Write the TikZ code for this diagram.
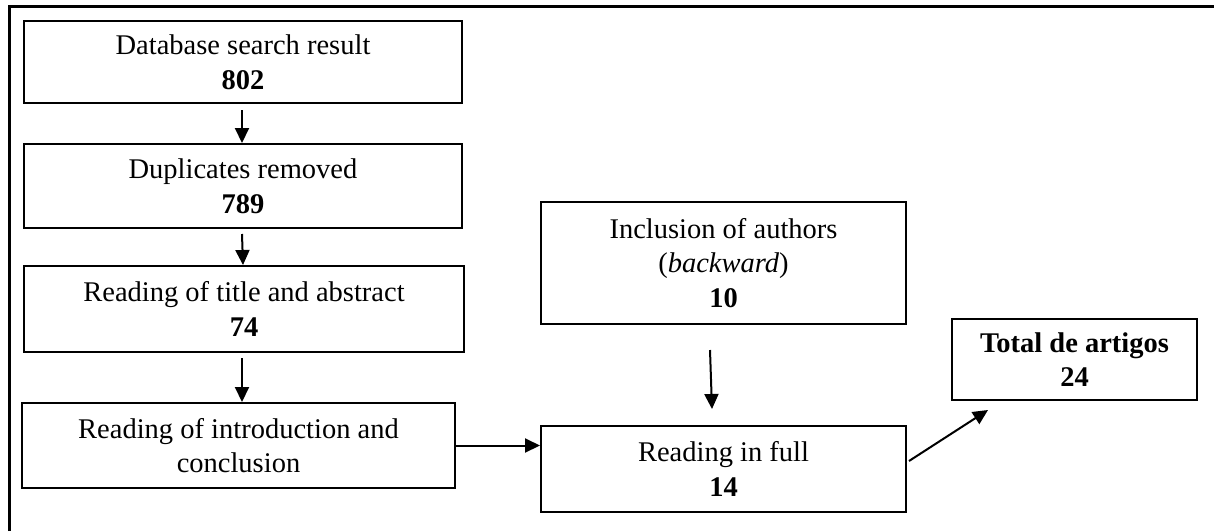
\documentclass[tikz,border=0pt]{standalone}
\usepackage{fontspec}
\setmainfont{Liberation Serif}
\usetikzlibrary{arrows.meta}
\begin{document}
\begin{tikzpicture}[x=1pt,y=-1pt,
  box/.style={draw,line width=2pt,rectangle,inner sep=0pt,align=center,
    font=\fontsize{28.5}{34.5}\selectfont},
  arr/.style={line width=2pt,-{Triangle[length=15pt,width=14pt]}}]
\useasboundingbox (0,0) rectangle (1214,531);
\fill[white] (0,0) rectangle (1214,531);
\draw[line width=3pt] (9.5,531) -- (9.5,6.5) -- (1214,6.5);
\node[box,minimum width=438pt,minimum height=82pt] (b1) at (243,62) {Database search result\\\textbf{802}};
\node[box,minimum width=438pt,minimum height=84pt] (b2) at (243,186) {Duplicates removed\\\textbf{789}};
\node[box,minimum width=440pt,minimum height=86pt] (b3) at (244,309) {Reading of title and abstract\\\textbf{74}};
\node[box,minimum width=433pt,minimum height=85pt] (b4) at (238.5,445.5) {Reading of introduction and\\conclusion};
\node[box,minimum width=365pt,minimum height=86pt] (b5) at (723.5,469) {Reading in full\\\textbf{14}};
\node[box,minimum width=365pt,minimum height=122pt] (b6) at (723.5,263) {Inclusion of authors\\(\textit{backward})\\\textbf{10}};
\node[box,minimum width=245pt,minimum height=81pt] (b7) at (1074.5,359.5) {\textbf{Total de artigos}\\\textbf{24}};
\draw[arr] ([xshift=-1pt,yshift=-6pt]b1.south) -- ([xshift=-1pt]b2.north);
\draw[arr] ([xshift=-1pt,yshift=-5pt]b2.south) -- ([xshift=-1pt]b3.north);
\draw[arr] ([xshift=-2pt,yshift=-5pt]b3.south) -- ([xshift=-2pt]b3.south |- b4.north);
\draw[arr] (b4.east) -- (b4.east -| b5.west);
\coordinate (c5a) at (710,350);
\coordinate (c5b) at (712,409);
\draw[arr] (c5a) -- (c5b);
\coordinate (c6a) at (909,461);
\coordinate (c6b) at (988,410);
\draw[arr] (c6a) -- (c6b);
\end{tikzpicture}
\end{document}
